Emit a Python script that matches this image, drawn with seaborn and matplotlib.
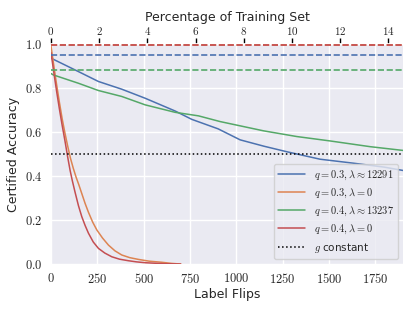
import matplotlib
import numpy as np
import pandas as pd
import matplotlib.pyplot as plt
import seaborn as sns
from matplotlib.ticker import FuncFormatter

matplotlib.use('Agg')

# certified accuracy vs. number of label flips
flips_blue = [0, 12, 148, 256, 382, 508, 670, 760, 902, 1021, 1150, 1273, 1453, 1633, 1800, 1900]
acc_blue = [0.935, 0.93, 0.874, 0.829, 0.794, 0.753, 0.695, 0.657, 0.614, 0.564, 0.535, 0.51, 0.476, 0.458, 0.44, 0.425]

flips_orange = [0, 15, 30, 45, 60, 75, 90, 105, 120, 135, 150, 166, 184, 202, 225, 247,
                278, 310, 345, 382, 425, 472, 530, 598, 650, 700]
acc_orange = [0.99, 0.90, 0.815, 0.735, 0.66, 0.595, 0.535, 0.48, 0.435, 0.395, 0.36, 0.32,
              0.275, 0.235, 0.19, 0.155, 0.118, 0.086, 0.06, 0.041, 0.029, 0.021, 0.013, 0.008,
              0.003, 0.0]

flips_green = [0, 12, 148, 256, 382, 508, 670, 796, 913, 1147, 1327, 1507, 1723, 1900]
acc_green = [0.865, 0.859, 0.821, 0.788, 0.761, 0.723, 0.689, 0.673, 0.647, 0.605, 0.579, 0.559, 0.533, 0.516]

flips_red = [0, 15, 30, 45, 60, 75, 90, 103, 115, 130, 148, 166, 184, 202, 228, 256,
             290, 328, 370, 418, 460, 508, 600, 700]
acc_red = [0.96, 0.87, 0.785, 0.705, 0.63, 0.56, 0.485, 0.425, 0.378, 0.325, 0.265,
           0.215, 0.175, 0.14, 0.10, 0.071, 0.05, 0.033, 0.022, 0.015, 0.01, 0.006, 0.002, 0.0]

labels = [r'$q=0.3, \lambda\approx12291$', r'$q=0.3, \lambda=0$',
          r'$q=0.4, \lambda\approx13237$', r'$q=0.4, \lambda=0$']
clean_acc = [0.95, 0.997, 0.88, 0.997]   # dashed reference levels
g_const = 0.5
train_size = 13000


def main():
    sns.set_theme(style='darkgrid')
    plt.rcParams['mathtext.fontset'] = 'cm'
    plt.rcParams['font.family'] = ['DejaVu Sans']

    frames = []
    for lab, fx, ac in zip(labels,
                           [flips_blue, flips_orange, flips_green, flips_red],
                           [acc_blue, acc_orange, acc_green, acc_red]):
        frames.append(pd.DataFrame({'flips': fx, 'acc': ac, 'run': lab}))
    data = pd.concat(frames, ignore_index=True)

    palette = sns.color_palette('deep', 4)
    fig = plt.figure(figsize=(4.15, 3.11), dpi=100)
    ax = fig.add_axes([0.123, 0.151, 0.848, 0.708])
    sns.lineplot(data, x='flips', y='acc', hue='run', palette=palette, ax=ax,
                 linewidth=1.1, legend=True)
    for c, lvl in zip(palette, clean_acc):
        ax.axhline(lvl, color=c, ls='--', lw=1.2)
    ax.axhline(g_const, color='black', ls=':', lw=1.1, label=r'$g$ constant')

    ax.set_xlim(0, 1900)
    ax.set_ylim(0, 1.0)
    ax.set_xticks(np.arange(0, 1751, 250))
    ax.set_yticks(np.arange(0, 1.01, 0.2))
    ax.xaxis.set_major_formatter(FuncFormatter(lambda v, p: f'${v:.0f}$'))
    ax.yaxis.set_major_formatter(FuncFormatter(lambda v, p: f'${v:.1f}$'))
    ax.tick_params(axis='both', length=4, width=1, color='black', labelsize=9, pad=2)
    ax.set_xlabel('Label Flips', fontsize=9, labelpad=1)
    ax.set_ylabel('Certified Accuracy', fontsize=9)

    top = ax.secondary_xaxis('top', functions=(lambda f: f / train_size * 100,
                                               lambda p: p * train_size / 100))
    top.set_xticks(np.arange(0, 15, 2))
    top.xaxis.set_major_formatter(FuncFormatter(lambda v, p: f'${v:.0f}$'))
    top.tick_params(length=4, width=1, color='black', labelsize=8, pad=1)
    top.set_xlabel('Percentage of Training Set', fontsize=9, labelpad=3)

    handles, labs = ax.get_legend_handles_labels()
    ax.legend(handles, labs, loc='lower right', fontsize=7.5, labelspacing=0.45,
              handlelength=2.6, framealpha=0.8)
    for s in ax.spines.values():
        s.set_visible(False)

    plt.savefig('out.png', dpi=100)


if __name__ == '__main__':
    main()
